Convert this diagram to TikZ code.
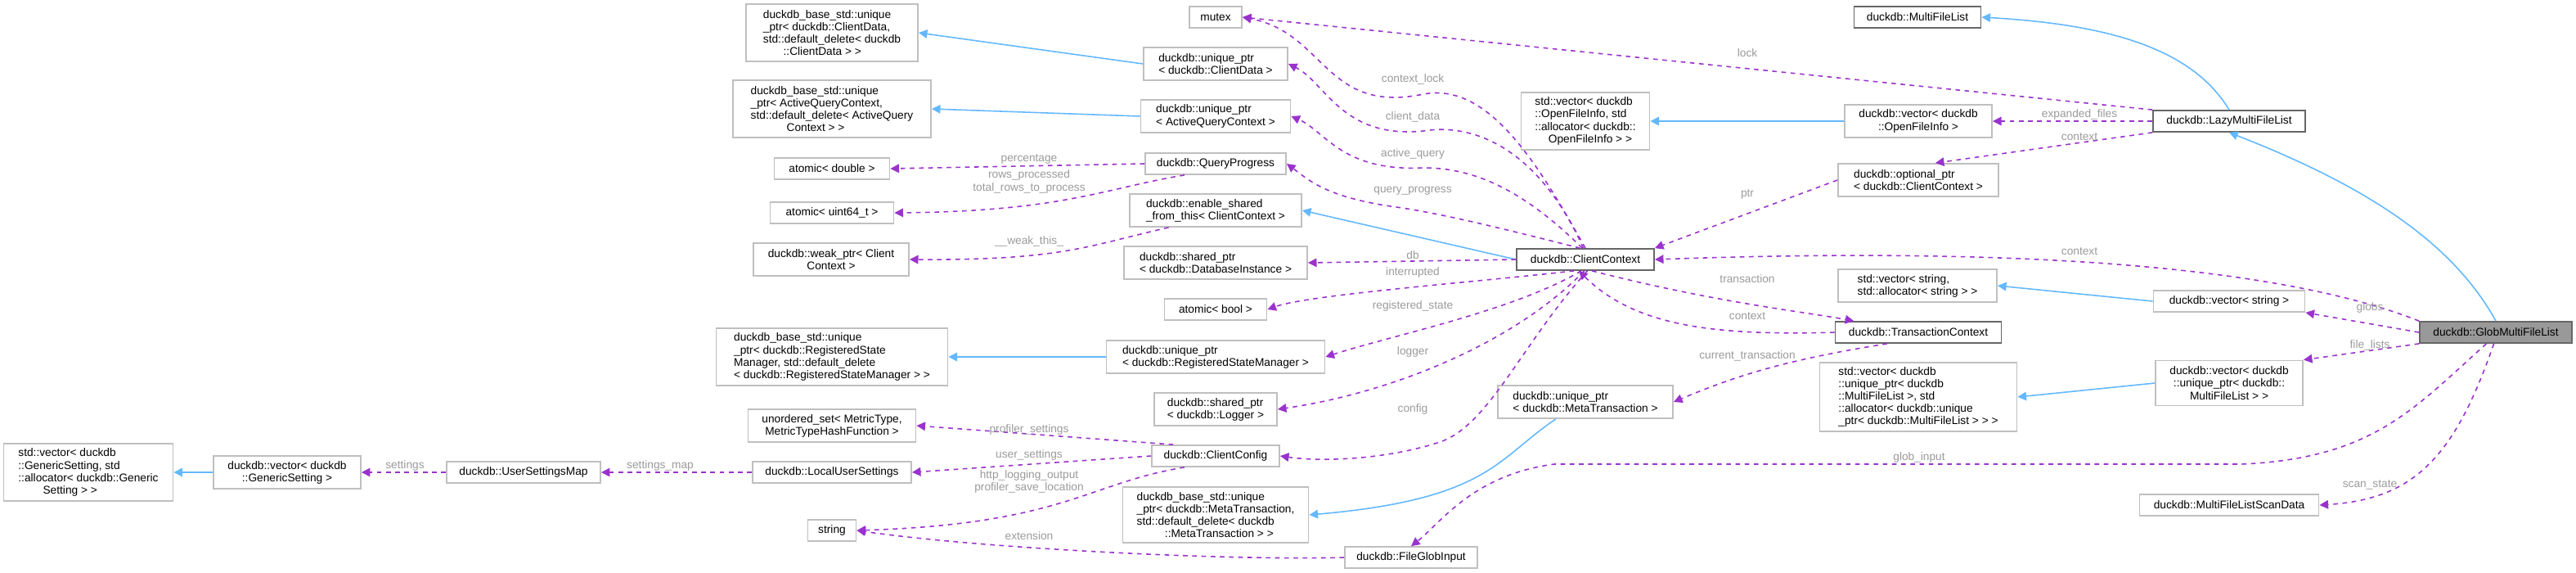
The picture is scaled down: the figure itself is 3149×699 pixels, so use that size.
\documentclass[tikz,border=0pt]{standalone}
\usepackage{fontspec}
\setmainfont{Liberation Sans}
\usetikzlibrary{arrows.meta,positioning}
\definecolor{usecol}{HTML}{9A32CD}
\definecolor{inhcol}{HTML}{63B8FF}
\definecolor{lblcol}{HTML}{9A9A9A}
\definecolor{boxcol}{HTML}{BFBFBF}
\definecolor{linkcol}{HTML}{666666}
\tikzset{
  box/.style={draw=boxcol, line width=0.5pt, fill=white, inner sep=1pt, align=left,
    font=\fontsize{3.9}{4.3}\selectfont},
  cls/.style={box, draw=linkcol},
  lbl/.style={text=lblcol, align=center, inner sep=0pt, font=\fontsize{3.9}{4.3}\selectfont},
  use/.style={draw=usecol, dashed, dash pattern=on 1.6pt off 1.6pt, line width=0.45pt,
    -{Triangle[length=3pt,width=3pt]}},
  inh/.style={draw=inhcol, line width=0.45pt, -{Triangle[length=3pt,width=3pt]}},
}
\begin{document}
\begin{tikzpicture}[x=0.01cm, y=-0.01cm]
    \useasboundingbox (0,0) rectangle (3149,699);

    % left column
    \node[box, minimum width=2.07cm, minimum height=0.70cm] (gsstd) at (108,577) {std::vector< duckdb\\::GenericSetting, std\\::allocator< duckdb::Generic\\\hspace*{2.2em}Setting > >};
    \node[box, minimum width=1.80cm, minimum height=0.40cm, align=center] (gsvec) at (351,577) {duckdb::vector< duckdb\\::GenericSetting >};
    \node[box, minimum width=1.88cm, minimum height=0.26cm] (usm) at (640,577) {duckdb::UserSettingsMap};

    % base classes and members
    \node[box, minimum width=2.10cm, minimum height=0.70cm] (bcd) at (1017,40) {duckdb\_base\_std::unique\\\_ptr< duckdb::ClientData,\\ std::default\_delete< duckdb\\\hspace*{1.8em}::ClientData > >};
    \node[box, minimum width=2.42cm, minimum height=0.70cm] (baq) at (1017,133) {duckdb\_base\_std::unique\\\_ptr< ActiveQueryContext,\\ std::default\_delete< ActiveQuery\\\hspace*{3.2em}Context > >};
    \node[box, minimum width=1.41cm, minimum height=0.26cm] (adbl) at (1017,206) {atomic< double >};
    \node[box, minimum width=1.51cm, minimum height=0.26cm] (au64) at (1017,260) {atomic< uint64\_t >};
    \node[box, minimum width=1.90cm, minimum height=0.40cm, align=center] (wptr) at (1016,317) {duckdb::weak\_ptr< Client\\Context >};
    \node[box, minimum width=2.83cm, minimum height=0.70cm] (brsm) at (1017,436) {duckdb\_base\_std::unique\\\_ptr< duckdb::RegisteredState\\Manager, std::default\_delete\\< duckdb::RegisteredStateManager > >};
    \node[box, minimum width=2.05cm, minimum height=0.40cm, align=center] (uset) at (1017,520) {unordered\_set< MetricType,\\MetricTypeHashFunction >};
    \node[box, minimum width=1.94cm, minimum height=0.26cm] (lus) at (1017,577) {duckdb::LocalUserSettings};
    \node[box, minimum width=0.59cm, minimum height=0.26cm] (str) at (1017,648) {string};

    % ClientContext members
    \node[box, minimum width=0.64cm, minimum height=0.26cm] (mtx) at (1486,21) {mutex};
    \node[box, minimum width=1.76cm, minimum height=0.40cm] (upcd) at (1486,78) {duckdb::unique\_ptr\\< duckdb::ClientData >};
    \node[box, minimum width=1.83cm, minimum height=0.40cm] (upaq) at (1486,142) {duckdb::unique\_ptr\\< ActiveQueryContext >};
    \node[box, minimum width=1.72cm, minimum height=0.26cm] (qp) at (1486,200) {duckdb::QueryProgress};
    \node[box, minimum width=2.10cm, minimum height=0.40cm] (esft) at (1486,257) {duckdb::enable\_shared\\\_from\_this< ClientContext >};
    \node[box, minimum width=2.24cm, minimum height=0.40cm] (spdb) at (1486,321) {duckdb::shared\_ptr\\< duckdb::DatabaseInstance >};
    \node[box, minimum width=1.25cm, minimum height=0.26cm] (abool) at (1486,378) {atomic< bool >};
    \node[box, minimum width=2.67cm, minimum height=0.40cm] (uprsm) at (1486,436) {duckdb::unique\_ptr\\< duckdb::RegisteredStateManager >};
    \node[box, minimum width=1.50cm, minimum height=0.40cm] (splog) at (1486,500) {duckdb::shared\_ptr\\< duckdb::Logger >};
    \node[box, minimum width=1.56cm, minimum height=0.26cm] (cfg) at (1486,557) {duckdb::ClientConfig};
    \node[box, minimum width=2.27cm, minimum height=0.68cm] (bmt) at (1486,629) {duckdb\_base\_std::unique\\\_ptr< duckdb::MetaTransaction,\\ std::default\_delete< duckdb\\\hspace*{2.5em}::MetaTransaction > >};
    \node[box, minimum width=1.62cm, minimum height=0.26cm] (fgi) at (1725,681) {duckdb::FileGlobInput};

    % centre
    \node[cls, minimum width=1.68cm, minimum height=0.26cm] (cc) at (1938,317) {duckdb::ClientContext};
    \node[box, minimum width=1.57cm, minimum height=0.70cm] (ofistd) at (1938,148) {std::vector< duckdb\\::OpenFileInfo, std\\::allocator< duckdb::\\\hspace*{1.2em}OpenFileInfo > >};
    \node[box, minimum width=2.14cm, minimum height=0.40cm] (upmt) at (1938,491) {duckdb::unique\_ptr\\< duckdb::MetaTransaction >};

    % right part
    \node[cls, minimum width=1.55cm, minimum height=0.26cm] (mfl) at (2344,21) {duckdb::MultiFileList};
    \node[box, minimum width=1.80cm, minimum height=0.40cm, align=center] (ofivec) at (2345,148) {duckdb::vector< duckdb\\::OpenFileInfo >};
    \node[box, minimum width=1.96cm, minimum height=0.40cm] (optr) at (2345,220) {duckdb::optional\_ptr\\< duckdb::ClientContext >};
    \node[box, minimum width=1.94cm, minimum height=0.40cm] (strstd) at (2344,349) {std::vector< string,\\ std::allocator< string > >};
    \node[cls, minimum width=2.03cm, minimum height=0.26cm] (tc) at (2345,406) {duckdb::TransactionContext};
    \node[box, minimum width=2.41cm, minimum height=0.84cm] (flstd) at (2345,485) {std::vector< duckdb\\::unique\_ptr< duckdb\\::MultiFileList >, std\\::allocator< duckdb::unique\\\_ptr< duckdb::MultiFileList > > >};
    \node[cls, minimum width=1.86cm, minimum height=0.26cm] (lazy) at (2725,148) {duckdb::LazyMultiFileList};
    \node[box, minimum width=1.85cm, minimum height=0.26cm] (strvec) at (2725,368) {duckdb::vector< string >};
    \node[box, minimum width=1.80cm, minimum height=0.55cm, align=center] (flvec) at (2725,468) {duckdb::vector< duckdb\\::unique\_ptr< duckdb::\\MultiFileList > >};
    \node[box, minimum width=2.19cm, minimum height=0.26cm] (scan) at (2725,617) {duckdb::MultiFileListScanData};
    \node[cls, fill=black!40, minimum width=1.86cm, minimum height=0.26cm] (glob) at (3051,406) {duckdb::GlobMultiFileList};

    % inheritance
    \draw[inh] (gsvec) -- (gsstd);
    \draw[inh] (upcd.west) -- (bcd.east);
    \draw[inh] (upaq.west) -- (baq.east);
    \draw[inh] (uprsm.west) -- (brsm.east);
    \draw[inh] (cc.west) -- (esft.east);
    \draw[inh] (upmt.210) .. controls (1830,560) and (1820,610) .. (bmt.east);
    \draw[inh] (ofivec.west) -- (ofistd.east);
    \draw[inh] (strvec.west) -- (strstd.east);
    \draw[inh] (flvec.west) -- (flstd.east);
    \draw[inh] (lazy.north) .. controls (2680,60) and (2580,30) .. (mfl.east);
    \draw[inh] (glob.north) .. controls (3000,300) and (2900,230) .. (lazy.south);

    % members of ClientContext
    \draw[use] (cc.north) .. controls (1880,200) and (1820,100) .. (1740,115) .. controls (1620,140) and (1620,40) .. (mtx.east);
    \draw[use] (cc.100) .. controls (1880,180) and (1800,150) .. (1740,160) .. controls (1640,170) and (1620,100) .. (upcd.east);
    \draw[use] (cc.105) .. controls (1860,230) and (1800,205) .. (1740,205) .. controls (1640,210) and (1620,160) .. (upaq.east);
    \draw[use] (cc.115) .. controls (1840,280) and (1760,260) .. (1700,252) .. controls (1620,240) and (1600,220) .. (qp.east);
    \draw[use] (cc.west) -- (spdb.east);
    \draw[use] (cc.225) .. controls (1800,345) and (1600,360) .. (abool.east);
    \draw[use] (cc.250) .. controls (1850,380) and (1700,410) .. (uprsm.east);
    \draw[use] (cc.265) .. controls (1850,420) and (1700,480) .. (splog.east);
    \draw[use] (cc.280) .. controls (1860,420) and (1820,520) .. (1760,540) .. controls (1700,560) and (1620,565) .. (cfg.east);
    \draw[use] (cc.-60) .. controls (2100,370) and (2200,380) .. (tc.170);
    \draw[use] (tc.west) .. controls (2100,410) and (2000,400) .. (cc.-120);
    \draw[use] (tc.200) .. controls (2180,440) and (2120,460) .. (upmt.east);

    % other members
    \draw[use] (qp.west) -- (adbl.east);
    \draw[use] (qp.200) .. controls (1350,230) and (1300,258) .. (au64.east);
    \draw[use] (esft.200) .. controls (1330,300) and (1300,318) .. (wptr.east);
    \draw[use] (cfg.165) -- (uset.east);
    \draw[use] (cfg.west) -- (lus.east);
    \draw[use] (cfg.200) .. controls (1330,590) and (1300,640) .. (str.east);
    \draw[use] (fgi.west) .. controls (1500,685) and (1200,670) .. (str.east);
    \draw[use] (lus.west) -- (usm.east);
    \draw[use] (usm.west) -- (gsvec.east);

    % members of the file lists
    \draw[use] (lazy.north west) -- (mtx.east);
    \draw[use] (lazy.west) -- (ofivec.east);
    \draw[use] (lazy.south west) -- (optr.45);
    \draw[use] (optr.west) -- (cc.north east);
    \draw[use] (glob.north west) .. controls (2800,330) and (2500,300) .. (cc.east);
    \draw[use] (glob.west) -- (strvec.south east);
    \draw[use] (glob.south west) -- (flvec.north east);
    \draw[use] (glob.-130) .. controls (2950,500) and (2900,560) .. (2740,567) -- (1900,567) .. controls (1800,580) and (1760,640) .. (fgi.north);
    \draw[use] (glob.-100) .. controls (3000,560) and (2950,610) .. (scan.east);

    % labels
    \node[lbl] (lcl) at (1727,97) {context\_lock};
    \node[lbl] (lcd) at (1727,143) {client\_data};
    \node[lbl] (laq) at (1727,188) {active\_query};
    \node[lbl] (lqp) at (1727,233) {query\_progress};
    \node[lbl] (ldb) at (1727,312) {db};
    \node[lbl] (lint) at (1727,333) {interrupted};
    \node[lbl] (lrs) at (1727,374) {registered\_state};
    \node[lbl] (llog) at (1727,430) {logger};
    \node[lbl] (lcfg) at (1727,500) {config};
    \node[lbl] (lpct) at (1258,194) {percentage};
    \node[lbl] (lrows) at (1258,222) {rows\_processed\\total\_rows\_to\_process};
    \node[lbl] (lwt) at (1258,295) {\_\_weak\_this\_};
    \node[lbl] (lps) at (1258,525) {profiler\_settings};
    \node[lbl] (lus) at (1258,556) {user\_settings};
    \node[lbl] (lhttp) at (1258,588) {http\_logging\_output\\profiler\_save\_location};
    \node[lbl] (lext) at (1258,655) {extension};
    \node[lbl] (lsm) at (807,569) {settings\_map};
    \node[lbl] (lset) at (495,569) {settings};
    \node[lbl] (llock) at (2136,65) {lock};
    \node[lbl] (lef) at (2542,140) {expanded\_files};
    \node[lbl] (lctx1) at (2542,167) {context};
    \node[lbl] (lptr) at (2136,237) {ptr};
    \node[lbl] (lctx2) at (2542,307) {context};
    \node[lbl] (ltr) at (2136,341) {transaction};
    \node[lbl] (lctx3) at (2136,386) {context};
    \node[lbl] (lct) at (2136,435) {current\_transaction};
    \node[lbl] (lglobs) at (2897,376) {globs};
    \node[lbl] (lfl) at (2897,422) {file\_lists};
    \node[lbl] (lgi) at (2346,559) {glob\_input};
    \node[lbl] (lss) at (2897,592) {scan\_state};
\end{tikzpicture}
\end{document}
